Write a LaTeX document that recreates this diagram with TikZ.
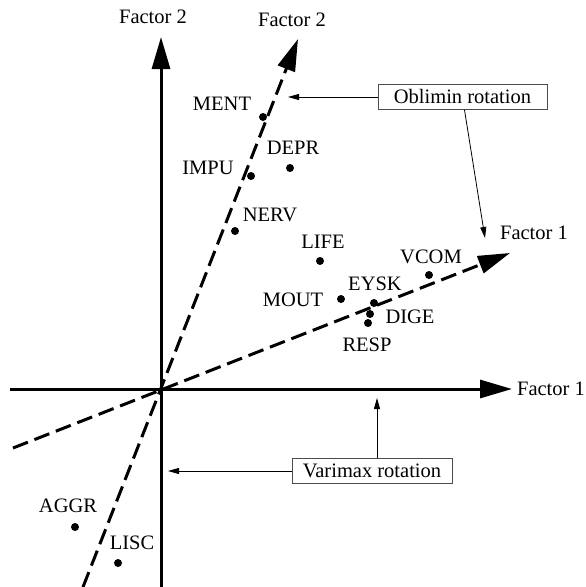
\documentclass[tikz,border=0pt]{standalone}
\usepackage{fontspec}
\setmainfont{Liberation Serif}
\usetikzlibrary{arrows.meta}

\tikzset{
	axis/.style={line width=3pt, -{Triangle[length=32pt,width=18pt]}},
	rotaxis/.style={axis, dash pattern=on 16pt off 7pt},
	dot/.style={circle, fill, inner sep=0pt, minimum size=8pt},
	lbl/.style={font=\fontsize{20.5}{24}\selectfont, inner sep=0pt, text height=13.5pt, text depth=0pt},
	note/.style={lbl, draw=black!70, line width=0.8pt, minimum height=25pt},
	pointer/.style={line width=0.8pt, -{Triangle[length=11pt,width=6pt]}}
}

\begin{document}
\begin{tikzpicture}[x=1pt, y=-1pt]
	\useasboundingbox (0,0) rectangle (586,587);
	% axes
	\coordinate (o) at (161,389);
	\coordinate (x0) at (10,389);   \coordinate (x1) at (512,389);
	\coordinate (y0) at (161,587);  \coordinate (y1) at (161,37);
	\coordinate (a0) at (13,448);   \coordinate (a1) at (510,253);
	\coordinate (b0) at (83,587);   \coordinate (b1) at (298,39);
	\draw[axis] (x0) -- (x1);
	\draw[axis] (y0) -- (y1);
	\draw[rotaxis] (a0) -- (a1);
	\draw[rotaxis] (b0) -- (b1);
	\node[lbl] (f1) at (551,389) {Factor 1};
	\node[lbl] (f2) at (153,17) {Factor 2};
	\node[lbl] (f1r) at (534,233) {Factor 1};
	\node[lbl] (f2r) at (292,20) {Factor 2};
	% loadings
	\node[dot] (ment) at (263,117) {};  \node[lbl] (ment-l) at (222,104) {MENT};
	\node[dot] (impu) at (251,176) {};  \node[lbl] (impu-l) at (208,168) {IMPU};
	\node[dot] (depr) at (290,168) {};  \node[lbl] (depr-l) at (293,148) {DEPR};
	\node[dot] (nerv) at (235,231) {};  \node[lbl] (nerv-l) at (270,215) {NERV};
	\node[dot] (life) at (320,261) {};  \node[lbl] (life-l) at (323,242) {LIFE};
	\node[dot] (vcom) at (429,275) {};  \node[lbl] (vcom-l) at (431,257) {VCOM};
	\node[dot] (mout) at (341,299) {};  \node[lbl] (mout-l) at (293,300) {MOUT};
	\node[dot] (eysk) at (374,303) {};  \node[lbl] (eysk-l) at (375,284) {EYSK};
	\node[dot] (dige) at (370,314) {};  \node[lbl] (dige-l) at (410,317) {DIGE};
	\node[dot] (resp) at (368,323) {};  \node[lbl] (resp-l) at (367,345) {RESP};
	\node[dot] (aggr) at (75,527) {};   \node[lbl] (aggr-l) at (68,506) {AGGR};
	\node[dot] (lisc) at (118,563) {};  \node[lbl] (lisc-l) at (132,543) {LISC};
	% rotation notes
	\node[note, minimum width=169pt] (obl) at (462.5,97) {Oblimin rotation};
	\node[note, minimum width=160pt] (vari) at (372,471) {Varimax rotation};
	\coordinate (obl-a) at (288,97);
	\coordinate (obl-b) at (485,238);
	\coordinate (vari-a) at (168,471);
	\coordinate (vari-b) at (377,398);
	\draw[pointer] (obl.west) -- (obl-a);
	\draw[pointer] ([xshift=2pt]obl.south) -- (obl-b);
	\draw[pointer] (vari.west) -- (vari-a);
	\draw[pointer] ([xshift=5pt]vari.north) -- (vari-b);
\end{tikzpicture}
\end{document}
